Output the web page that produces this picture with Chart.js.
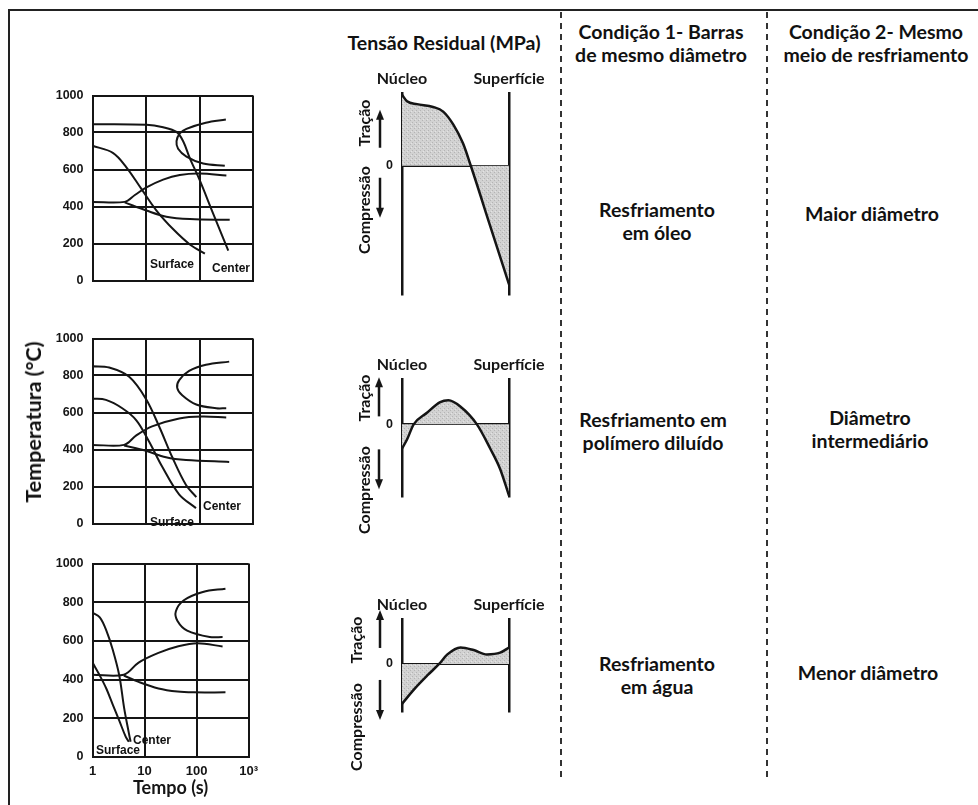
<!DOCTYPE html>
<html lang="pt">
<head>
<meta charset="utf-8">
<title>Têmpera – curvas de resfriamento e tensão residual</title>
<script src="https://cdn.jsdelivr.net/npm/chart.js@4.4.1/dist/chart.umd.min.js"></script>
<style>
  html, body { margin: 0; padding: 0; background: #fff; }
  body { width: 978px; height: 805px; position: relative; overflow: hidden;
         font-family: Lato, "Open Sans", sans-serif; color: #111; }
  .frame { position: absolute; left: 8px; top: 9px; width: 990px; height: 820px;
           border-top: 2px solid #222; border-left: 2px solid #222; }
  .sep { position: absolute; width: 1.5px;
         background: repeating-linear-gradient(to bottom, #333 0 6px, transparent 6px 11px); }
  .box { position: absolute; }
  .txt { position: absolute; transform: translate(-50%, -50%); white-space: nowrap;
         text-align: center; font-weight: 700; }
  .rot { transform: translate(-50%, -50%) rotate(-90deg); }
  .curve { font-family: "Liberation Sans", Arial, sans-serif; font-size: 12px; }
  .col { font-size: 19.5px; line-height: 23px; }
  .sign { font-size: 16px; }
</style>
</head>
<body>
<div class="frame"></div>
<div class="sep" style="left:560px; top:12px; height:768px;"></div>
<div class="sep" style="left:766px; top:12px; height:768px;"></div>

<!-- cooling curves, time on a log axis -->
<div class="box" style="left:40px; top:79px;"><canvas id="cctOleo" width="225" height="218"></canvas></div>
<div class="box" style="left:40px; top:322px;"><canvas id="cctPolimero" width="225" height="218"></canvas></div>
<div class="box" style="left:40px; top:547px;"><canvas id="cctAgua" width="225" height="257"></canvas></div>

<!-- residual stress profiles -->
<div class="box" style="left:340px; top:70px;"><canvas id="tensaoOleo" width="214" height="242"></canvas></div>
<div class="box" style="left:340px; top:356px;"><canvas id="tensaoPolimero" width="214" height="158"></canvas></div>
<div class="box" style="left:340px; top:596px;"><canvas id="tensaoAgua" width="214" height="133"></canvas></div>

<div class="txt rot" style="left:33px; top:422px; font-size:21.5px;">Temperatura (°C)</div>

<div class="txt curve" style="left:172px; top:264px;">Surface</div>
<div class="txt curve" style="left:231px; top:268px;">Center</div>
<div class="txt curve" style="left:222px; top:506px;">Center</div>
<div class="txt curve" style="left:172px; top:522px;">Surface</div>
<div class="txt curve" style="left:152px; top:740px;">Center</div>
<div class="txt curve" style="left:118px; top:750px;">Surface</div>

<div class="txt" style="left:444px; top:42px; font-size:19.5px;">Tensão Residual (MPa)</div>
<div class="txt rot sign" style="left:363px; top:123px;">Tração</div>
<div class="txt rot sign" style="left:363px; top:210px;">Compressão</div>
<div class="txt rot sign" style="left:363px; top:398px;">Tração</div>
<div class="txt rot sign" style="left:363px; top:490px;">Compressão</div>
<div class="txt rot sign" style="left:355px; top:640px;">Tração</div>
<div class="txt rot sign" style="left:355px; top:727px;">Compressão</div>

<div class="txt col" style="left:661px; top:43px;">Condição 1- Barras<br>de mesmo diâmetro</div>
<div class="txt col" style="left:876px; top:43px;">Condição 2- Mesmo<br>meio de resfriamento</div>
<div class="txt col" style="left:657px; top:221px;">Resfriamento<br>em óleo</div>
<div class="txt col" style="left:653px; top:431px;">Resfriamento em<br>polímero diluído</div>
<div class="txt col" style="left:657px; top:675px;">Resfriamento<br>em água</div>
<div class="txt col" style="left:872px; top:213px;">Maior diâmetro</div>
<div class="txt col" style="left:870px; top:429px;">Diâmetro<br>intermediário</div>
<div class="txt col" style="left:868px; top:672px;">Menor diâmetro</div>

<script>
// time axis (s) and temperature axis (°C)
const timeTicks = [1, 10, 100, 1000];
const timeLabels = ['1', '10', '100', '10³'];
const tempTicks = [0, 200, 400, 600, 800, 1000];

// [time s, temperature °C] — oil quench
const oleoSurface = [[1, 728], [2.4, 690], [4.3, 612], [8.2, 495], [15.7, 378], [32, 278], [66, 195], [126, 145]];
const oleoCenter = [[1, 845], [10.2, 842], [20.9, 828], [37.1, 803], [49.5, 753], [65.8, 662], [100, 545], [180, 362], [345, 162]];
const oleoPerlita = [[311, 870], [131, 853], [57, 820], [42.8, 795], [37.2, 753], [39.8, 712], [57, 670], [117, 632], [297, 620]];
const oleoBainitaSup = [[1, 425], [4, 425], [6.2, 462], [10.2, 503], [20.9, 545], [42.8, 570], [100, 578], [318, 567]];
const oleoBainitaInf = [[4, 422], [10.2, 378], [24, 345], [66, 332], [367, 328]];

// diluted polymer quench
const polimeroSurface = [[1, 675], [1.78, 668], [3.6, 623], [6.6, 558], [11.4, 443], [20, 308], [41.5, 158], [86, 83]];
const polimeroCenter = [[1, 850], [2.05, 843], [4.85, 793], [10, 673], [17.7, 523], [31, 358], [56, 208], [87, 143]];
const polimeroPerlita = [[359, 875], [132, 858], [64, 825], [41.8, 775], [38.3, 733], [47.5, 693], [87, 643], [205, 623], [316, 623]];
const polimeroBainitaSup = [[1, 425], [3.9, 425], [6.5, 475], [13, 525], [41.8, 568], [112, 578], [316, 573]];
const polimeroBainitaInf = [[3.9, 422], [10, 393], [23.6, 358], [56, 343], [359, 333]];

// water quench
const aguaSurface = [[1, 488], [1.38, 421], [1.84, 354], [2.45, 271], [3.27, 188], [4.36, 104], [5.0, 79]];
const aguaCenter = [[1, 746], [1.38, 721], [1.84, 654], [2.45, 554], [3.27, 421], [4.05, 254], [5.02, 121], [5.4, 79]];
const aguaPerlita = [[359, 870], [132, 853], [57, 810], [40, 753], [43, 703], [66, 653], [179, 620], [316, 620]];
const aguaBainitaSup = [[1, 425], [4, 425], [7.7, 488], [18.5, 538], [43, 571], [104, 588], [316, 571]];
const aguaBainitaInf = [[4, 421], [7.7, 388], [18.5, 354], [43, 338], [88, 334], [359, 334]];

// residual stress profiles: [relative position núcleo→superfície, stress]
const profileEnds = ['Núcleo', 'Superfície'];
const tensaoOleo = [[0, 76], [0.047, 69], [0.14, 66], [0.29, 63], [0.385, 58], [0.48, 44], [0.57, 24], [0.643, 0], [0.82, -63], [1, -127]];
const tensaoPolimero = [[0, -27], [0.047, -17], [0.109, 0], [0.233, 13], [0.357, 25], [0.434, 27], [0.545, 20], [0.70, 0], [0.824, -27], [0.917, -50], [1, -80]];
const tensaoAgua = [[0, -46], [0.115, -29], [0.239, -13], [0.347, 0], [0.424, 11], [0.547, 19], [0.67, 16], [0.794, 11], [0.917, 13], [1, 19]];

const ink = '#151515';
const tickFont = { family: '"Liberation Sans", Arial, sans-serif', size: 12.5, weight: 'bold' };

function toXY(rows) {
  return rows.map(([x, y]) => ({ x, y }));
}

// light stippled grey for the stress areas
function stipple() {
  const c = document.createElement('canvas');
  c.width = c.height = 4;
  const g = c.getContext('2d');
  g.fillStyle = '#d2d2d2';
  g.fillRect(0, 0, 4, 4);
  g.fillStyle = '#b4b4b4';
  g.fillRect(0, 0, 1, 1);
  g.fillRect(2, 2, 1, 1);
  g.fillStyle = '#e4e4e4';
  g.fillRect(3, 1, 1, 1);
  return g.createPattern(c, 'repeat');
}
const areaFill = stipple();

function cctChart(id, curves, showTime) {
  return new Chart(document.getElementById(id), {
    type: 'line',
    data: {
      datasets: curves.map(c => ({
        data: toXY(c),
        borderColor: ink,
        borderWidth: 2,
        pointRadius: 0,
        tension: 0.35,
        fill: false
      }))
    },
    options: {
      responsive: false,
      animation: false,
      devicePixelRatio: 1,
      layout: { padding: { top: 10, right: 12, bottom: showTime ? 2 : 4, left: 0 } },
      plugins: { legend: { display: false }, tooltip: { enabled: false } },
      scales: {
        x: {
          type: 'logarithmic',
          min: 1,
          max: 1000,
          afterBuildTicks: s => { s.ticks = timeTicks.map(v => ({ value: v })); },
          afterFit: s => { s.height = showTime ? 45 : 4; },
          grid: { color: ink, lineWidth: 2, drawTicks: false },
          border: { color: ink, width: 2 },
          ticks: {
            display: showTime,
            padding: 7,
            autoSkip: false,
            maxRotation: 0,
            color: ink,
            font: { ...tickFont, size: 13 },
            callback: (v, i) => timeLabels[i]
          },
          title: {
            display: showTime,
            text: 'Tempo (s)',
            color: ink,
            font: { family: 'Lato', size: 18, weight: 'bold' },
            padding: { top: 0, bottom: 3 }
          }
        },
        y: {
          min: 0,
          max: 1000,
          afterBuildTicks: s => { s.ticks = tempTicks.map(v => ({ value: v })); },
          afterFit: s => { s.width = 52.5; },
          grid: { color: ink, lineWidth: 2, drawTicks: false },
          border: { color: ink, width: 2 },
          ticks: { padding: 9, color: ink, font: tickFont, callback: v => String(v) }
        }
      }
    }
  });
}

// tension / compression arrows beside each profile
const signArrows = {
  id: 'signArrows',
  afterDraw(chart, args, opts) {
    const { ctx, chartArea } = chart;
    const y0 = chart.scales.y.getPixelForValue(0);
    const x = chartArea.left + opts.dx;
    ctx.save();
    ctx.strokeStyle = ink;
    ctx.fillStyle = ink;
    ctx.lineWidth = 2.5;
    [opts.up, opts.down].forEach(([from, to]) => {
      const dir = Math.sign(to - from);
      const tip = y0 + to;
      ctx.beginPath();
      ctx.moveTo(x, y0 + from);
      ctx.lineTo(x, tip - dir * 6);
      ctx.stroke();
      ctx.beginPath();
      ctx.moveTo(x, tip);
      ctx.lineTo(x - 4, tip - dir * 10);
      ctx.lineTo(x + 4, tip - dir * 10);
      ctx.closePath();
      ctx.fill();
    });
    ctx.restore();
  }
};

function stressChart(id, profile, yMin, yMax, arrows) {
  return new Chart(document.getElementById(id), {
    type: 'line',
    data: {
      datasets: [{
        data: toXY(profile),
        borderColor: ink,
        borderWidth: 2.5,
        pointRadius: 0,
        cubicInterpolationMode: 'monotone',
        fill: 'origin',
        backgroundColor: areaFill
      }]
    },
    plugins: [signArrows],
    options: {
      responsive: false,
      animation: false,
      devicePixelRatio: 1,
      layout: { padding: { top: 0, right: 45, bottom: 2, left: 0 } },
      plugins: { legend: { display: false }, tooltip: { enabled: false }, signArrows: arrows },
      scales: {
        x: {
          type: 'linear',
          position: 'top',
          min: 0,
          max: 1,
          z: 1,
          afterBuildTicks: s => { s.ticks = [{ value: 0 }, { value: 1 }]; },
          afterFit: s => { s.height = 22; },
          grid: { color: ink, lineWidth: 2.5, drawTicks: false },
          border: { display: false },
          ticks: {
            padding: 4,
            autoSkip: false,
            maxRotation: 0,
            color: ink,
            font: { family: 'Lato', size: 16, weight: 'bold' },
            callback: (v, i) => profileEnds[i]
          }
        },
        y: {
          min: yMin,
          max: yMax,
          z: 1,
          afterBuildTicks: s => { s.ticks = [{ value: 0 }]; },
          afterFit: s => { s.width = 62; },
          grid: { color: ink, lineWidth: 2, drawTicks: false },
          border: { display: false },
          ticks: { padding: 9, color: ink, font: tickFont }
        }
      }
    }
  });
}

cctChart('cctOleo', [oleoSurface, oleoCenter, oleoPerlita, oleoBainitaSup, oleoBainitaInf], false);
cctChart('cctPolimero', [polimeroSurface, polimeroCenter, polimeroPerlita, polimeroBainitaSup, polimeroBainitaInf], false);
cctChart('cctAgua', [aguaSurface, aguaCenter, aguaPerlita, aguaBainitaSup, aguaBainitaInf], true);

stressChart('tensaoOleo', tensaoOleo, -139, 79, { dx: -22, up: [-18, -56], down: [12, 52] });
stressChart('tensaoPolimero', tensaoPolimero, -82, 52, { dx: -23, up: [-8, -47], down: [25, 65] });
stressChart('tensaoAgua', tensaoAgua, -56, 53, { dx: -22, up: [-16, -54], down: [16, 56] });
</script>
</body>
</html>
